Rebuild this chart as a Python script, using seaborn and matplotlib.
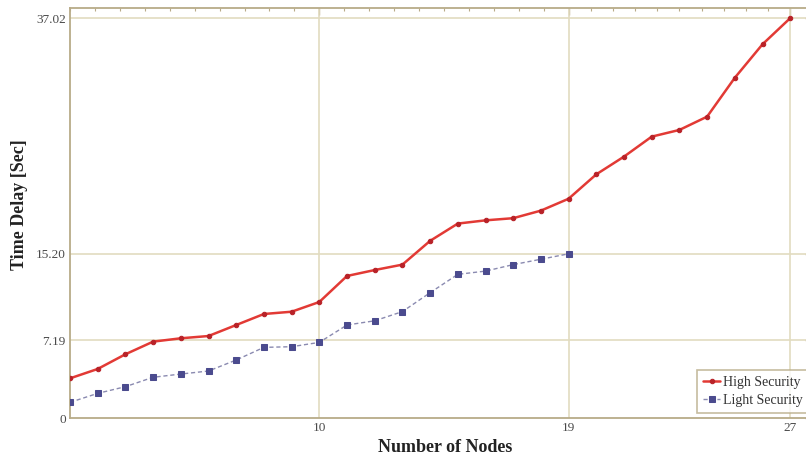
import matplotlib
matplotlib.use("Agg")
import matplotlib.pyplot as plt
import seaborn as sns
import numpy as np
import pandas as pd

# ---- data ----
nodes_high = list(range(1, 28))
high_security = [3.67, 4.54, 5.90, 7.07, 7.38, 7.59, 8.61, 9.63, 9.84, 10.74,
                 13.15, 13.70, 14.20, 16.40, 18.00, 18.30, 18.50, 19.20, 20.30,
                 22.56, 24.20, 26.05, 26.67, 27.90, 31.50, 34.60, 37.02]
nodes_light = list(range(1, 20))
light_security = [1.45, 2.28, 2.90, 3.77, 4.07, 4.35, 5.37, 6.54, 6.60, 7.00,
                  8.61, 9.00, 9.85, 11.60, 13.30, 13.60, 14.20, 14.70, 15.20]
x_ticks = [10, 19, 27]
x_tick_labels = ["10", "19", "27"]
y_ticks = [0, 7.19, 15.20, 37.02]
y_tick_labels = ["0", "7.19", "15.20", "37.02"]

df_high = pd.DataFrame({"Nodes": nodes_high, "Delay": high_security})
df_light = pd.DataFrame({"Nodes": nodes_light, "Delay": light_security})

sns.set_style("white")
plt.rcParams['font.family'] = ['Liberation Serif', 'DejaVu Serif']

frame_col = "#b8ab88"
grid_col = "#e2dbc0"

fig = plt.figure(figsize=(8.06, 4.61), dpi=100)
ax = fig.add_axes([70/806, 43/461, (812-70)/806, 410/461])

sns.lineplot(data=df_high, x="Nodes", y="Delay", ax=ax, color="#e23a35",
             linewidth=1.8, marker="o", markersize=3.2, markerfacecolor="#b82228",
             markeredgecolor="#b82228", label="High Security", zorder=3)
sns.lineplot(data=df_light, x="Nodes", y="Delay", ax=ax, color="#8a8ab0",
             linewidth=1.0, linestyle=(0, (3, 2)), marker="s", markersize=3.8,
             markerfacecolor="#4b4b8e", markeredgecolor="#4b4b8e",
             label="Light Security", zorder=3)

ax.set_xlim(1, 1 + (812-70)/27.7)
ax.set_ylim(0, 37.96)

for xv in x_ticks:
    ax.axvline(xv, color=grid_col, linewidth=1.2, zorder=1)
for yv in y_ticks[1:]:
    ax.axhline(yv, color=grid_col, linewidth=1.2, zorder=1)

ax.set_xticks(x_ticks)
ax.set_xticklabels(x_tick_labels)
ax.set_yticks(y_ticks)
ax.set_yticklabels(y_tick_labels)
minor_x = np.concatenate([np.linspace(1, 10, 11), np.linspace(10, 19, 11), np.linspace(19, 27, 11)])
minor_y = np.concatenate([np.linspace(0, 7.19, 5), np.linspace(7.19, 15.20, 6), np.linspace(15.20, 37.02, 11)])
ax.set_xticks(minor_x, minor=True)
ax.set_yticks(minor_y, minor=True)

ax.tick_params(axis="both", which="major", direction="in", length=5, width=1,
               color=frame_col, labelsize=9.5, labelcolor="#4a4a4a", pad=3,
               top=True, right=True)
ax.tick_params(axis="both", which="minor", direction="in", length=2.5, width=0.8,
               color=frame_col, top=True, right=True)
for s in ax.spines.values():
    s.set_color(frame_col)
    s.set_linewidth(1.3)

ax.set_xlabel("Number of Nodes", fontsize=13, fontweight="bold", color="#222222")
ax.set_ylabel("Time Delay [Sec]", fontsize=13, fontweight="bold", color="#222222")
ax.xaxis.set_label_coords((445-70)/742, -0.052)
ax.yaxis.set_label_coords(-0.056, 0.52)

leg = ax.legend(loc="lower left", bbox_to_anchor=((697-70)/742, 0.012),
                frameon=True, fancybox=False, borderaxespad=0, fontsize=10,
                handlelength=1.2, handletextpad=0.2, borderpad=0.45, labelspacing=0.35)
leg.get_frame().set_edgecolor(frame_col)
leg.get_frame().set_linewidth(1.2)
for t in leg.get_texts():
    t.set_color("#333333")

fig.savefig("out.png", dpi=100)
